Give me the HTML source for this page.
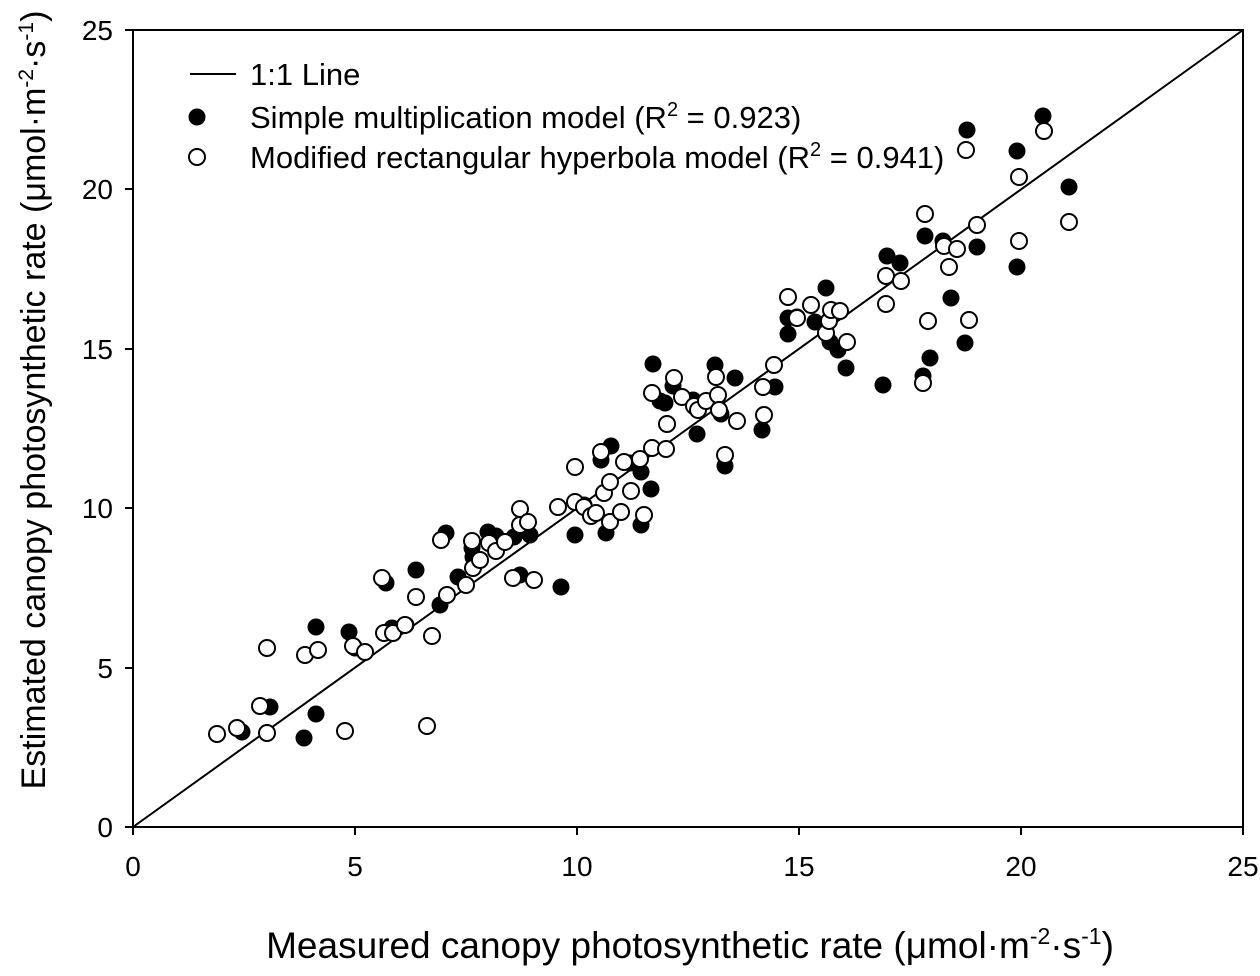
<!DOCTYPE html>
<html><head><meta charset="utf-8"><style>body{margin:0;background:#fff}</style></head><body>
<svg width="1260" height="971" viewBox="0 0 1260 971" xmlns="http://www.w3.org/2000/svg" font-family="Liberation Sans, sans-serif">
<rect width="1260" height="971" fill="#fff"/>
<g stroke="#000" stroke-width="2" fill="none">
<rect x="133" y="30" width="1110" height="797"/>
<line x1="133" y1="827" x2="1243" y2="30"/>
<path d="M133 827v8M355 827v8M577 827v8M799 827v8M1021 827v8M1243 827v8M133 827h-8M133 668h-8M133 508h-8M133 349h-8M133 189h-8M133 30h-8"/>
</g>
<g font-size="28" text-anchor="middle">
<text x="133" y="876">0</text><text x="355" y="876">5</text><text x="577" y="876">10</text><text x="799" y="876">15</text><text x="1021" y="876">20</text><text x="1243" y="876">25</text>
</g>
<g font-size="28" text-anchor="end">
<text x="113" y="837">0</text><text x="113" y="678">5</text><text x="113" y="518">10</text><text x="113" y="359">15</text><text x="113" y="199">20</text><text x="113" y="40">25</text>
</g>
<text x="690" y="958" font-size="37" text-anchor="middle">Measured canopy photosynthetic rate (μmol·m<tspan dy="-14" font-size="23">-2</tspan><tspan dy="14">·s</tspan><tspan dy="-14" font-size="23">-1</tspan><tspan dy="14">)</tspan></text>
<text transform="translate(45,400) rotate(-90)" font-size="34" text-anchor="middle">Estimated canopy photosynthetic rate (μmol·m<tspan dy="-12" font-size="21">-2</tspan><tspan dy="12">·s</tspan><tspan dy="-12" font-size="21">-1</tspan><tspan dy="12">)</tspan></text>
<line x1="190" y1="74" x2="236" y2="74" stroke="#000" stroke-width="2"/>
<circle cx="197" cy="117" r="8.5" fill="#000"/>
<circle cx="197" cy="157" r="8" fill="#fff" stroke="#000" stroke-width="2"/>
<g font-size="31">
<text x="250" y="85">1:1 Line</text>
<text x="250" y="128">Simple multiplication model (R<tspan dy="-12" font-size="20">2</tspan><tspan dy="12"> = 0.923)</tspan></text>
<text x="250" y="168">Modified rectangular hyperbola model (R<tspan dy="-12" font-size="20">2</tspan><tspan dy="12"> = 0.941)</tspan></text>
</g>
<g fill="#000">
<circle cx="217" cy="734" r="8.5"/><circle cx="242" cy="732" r="8.5"/><circle cx="270" cy="707" r="8.5"/><circle cx="304" cy="738" r="8.5"/><circle cx="316" cy="714" r="8.5"/><circle cx="316" cy="627" r="8.5"/><circle cx="349" cy="632" r="8.5"/><circle cx="355" cy="648" r="8.5"/><circle cx="365" cy="652" r="8.5"/><circle cx="386" cy="583" r="8.5"/><circle cx="392" cy="628" r="8.5"/><circle cx="406" cy="625" r="8.5"/><circle cx="416" cy="570" r="8.5"/><circle cx="432" cy="636" r="8.5"/><circle cx="440" cy="605" r="8.5"/><circle cx="446" cy="533" r="8.5"/><circle cx="458" cy="577" r="8.5"/><circle cx="473" cy="557" r="8.5"/><circle cx="472" cy="548" r="8.5"/><circle cx="488" cy="532" r="8.5"/><circle cx="496" cy="536" r="8.5"/><circle cx="514" cy="537" r="8.5"/><circle cx="520" cy="575" r="8.5"/><circle cx="530" cy="535" r="8.5"/><circle cx="561" cy="587" r="8.5"/><circle cx="575" cy="535" r="8.5"/><circle cx="584" cy="505" r="8.5"/><circle cx="606" cy="533" r="8.5"/><circle cx="601" cy="460" r="8.5"/><circle cx="611" cy="446" r="8.5"/><circle cx="630" cy="463" r="8.5"/><circle cx="641" cy="472" r="8.5"/><circle cx="641" cy="525" r="8.5"/><circle cx="651" cy="489" r="8.5"/><circle cx="653" cy="364" r="8.5"/><circle cx="660" cy="401" r="8.5"/><circle cx="665" cy="403" r="8.5"/><circle cx="673" cy="386" r="8.5"/><circle cx="693" cy="400" r="8.5"/><circle cx="697" cy="434" r="8.5"/><circle cx="715" cy="365" r="8.5"/><circle cx="721" cy="414" r="8.5"/><circle cx="725" cy="466" r="8.5"/><circle cx="735" cy="378" r="8.5"/><circle cx="762" cy="430" r="8.5"/><circle cx="775" cy="387" r="8.5"/><circle cx="788" cy="318" r="8.5"/><circle cx="788" cy="334" r="8.5"/><circle cx="797" cy="317" r="8.5"/><circle cx="815" cy="322" r="8.5"/><circle cx="826" cy="288" r="8.5"/><circle cx="830" cy="342" r="8.5"/><circle cx="838" cy="350" r="8.5"/><circle cx="846" cy="368" r="8.5"/><circle cx="883" cy="385" r="8.5"/><circle cx="887" cy="256" r="8.5"/><circle cx="900" cy="263" r="8.5"/><circle cx="923" cy="376" r="8.5"/><circle cx="930" cy="358" r="8.5"/><circle cx="925" cy="236" r="8.5"/><circle cx="943" cy="241" r="8.5"/><circle cx="951" cy="298" r="8.5"/><circle cx="965" cy="343" r="8.5"/><circle cx="967" cy="130" r="8.5"/><circle cx="977" cy="247" r="8.5"/><circle cx="1017" cy="151" r="8.5"/><circle cx="1017" cy="267" r="8.5"/><circle cx="1043" cy="116" r="8.5"/><circle cx="1069" cy="187" r="8.5"/>
</g>
<g fill="#fff" stroke="#000" stroke-width="2">
<circle cx="217" cy="734" r="8"/><circle cx="237" cy="728" r="8"/><circle cx="260" cy="706" r="8"/><circle cx="267" cy="733" r="8"/><circle cx="267" cy="648" r="8"/><circle cx="305" cy="655" r="8"/><circle cx="318" cy="650" r="8"/><circle cx="345" cy="731" r="8"/><circle cx="353" cy="646" r="8"/><circle cx="365" cy="652" r="8"/><circle cx="382" cy="578" r="8"/><circle cx="384" cy="633" r="8"/><circle cx="393" cy="633" r="8"/><circle cx="405" cy="625" r="8"/><circle cx="416" cy="597" r="8"/><circle cx="427" cy="726" r="8"/><circle cx="432" cy="636" r="8"/><circle cx="441" cy="540" r="8"/><circle cx="447" cy="595" r="8"/><circle cx="466" cy="585" r="8"/><circle cx="472" cy="541" r="8"/><circle cx="473" cy="568" r="8"/><circle cx="480" cy="560" r="8"/><circle cx="489" cy="543" r="8"/><circle cx="496" cy="551" r="8"/><circle cx="505" cy="542" r="8"/><circle cx="520" cy="509" r="8"/><circle cx="520" cy="525" r="8"/><circle cx="513" cy="578" r="8"/><circle cx="528" cy="522" r="8"/><circle cx="534" cy="580" r="8"/><circle cx="558" cy="507" r="8"/><circle cx="575" cy="502" r="8"/><circle cx="575" cy="467" r="8"/><circle cx="584" cy="507" r="8"/><circle cx="591" cy="516" r="8"/><circle cx="596" cy="513" r="8"/><circle cx="601" cy="452" r="8"/><circle cx="604" cy="493" r="8"/><circle cx="610" cy="522" r="8"/><circle cx="610" cy="482" r="8"/><circle cx="621" cy="512" r="8"/><circle cx="624" cy="462" r="8"/><circle cx="631" cy="491" r="8"/><circle cx="640" cy="459" r="8"/><circle cx="644" cy="515" r="8"/><circle cx="652" cy="448" r="8"/><circle cx="652" cy="393" r="8"/><circle cx="666" cy="449" r="8"/><circle cx="674" cy="378" r="8"/><circle cx="667" cy="424" r="8"/><circle cx="682" cy="397" r="8"/><circle cx="694" cy="406" r="8"/><circle cx="698" cy="410" r="8"/><circle cx="706" cy="401" r="8"/><circle cx="716" cy="377" r="8"/><circle cx="718" cy="395" r="8"/><circle cx="719" cy="410" r="8"/><circle cx="725" cy="455" r="8"/><circle cx="737" cy="421" r="8"/><circle cx="763" cy="387" r="8"/><circle cx="764" cy="415" r="8"/><circle cx="774" cy="365" r="8"/><circle cx="788" cy="297" r="8"/><circle cx="797" cy="318" r="8"/><circle cx="811" cy="305" r="8"/><circle cx="826" cy="333" r="8"/><circle cx="829" cy="321" r="8"/><circle cx="831" cy="310" r="8"/><circle cx="840" cy="311" r="8"/><circle cx="847" cy="342" r="8"/><circle cx="886" cy="276" r="8"/><circle cx="886" cy="304" r="8"/><circle cx="901" cy="281" r="8"/><circle cx="925" cy="214" r="8"/><circle cx="923" cy="383" r="8"/><circle cx="928" cy="321" r="8"/><circle cx="966" cy="150" r="8"/><circle cx="944" cy="246" r="8"/><circle cx="949" cy="267" r="8"/><circle cx="957" cy="249" r="8"/><circle cx="969" cy="320" r="8"/><circle cx="977" cy="225" r="8"/><circle cx="1019" cy="177" r="8"/><circle cx="1019" cy="241" r="8"/><circle cx="1044" cy="131" r="8"/><circle cx="1069" cy="222" r="8"/>
</g>
</svg>
</body></html>
